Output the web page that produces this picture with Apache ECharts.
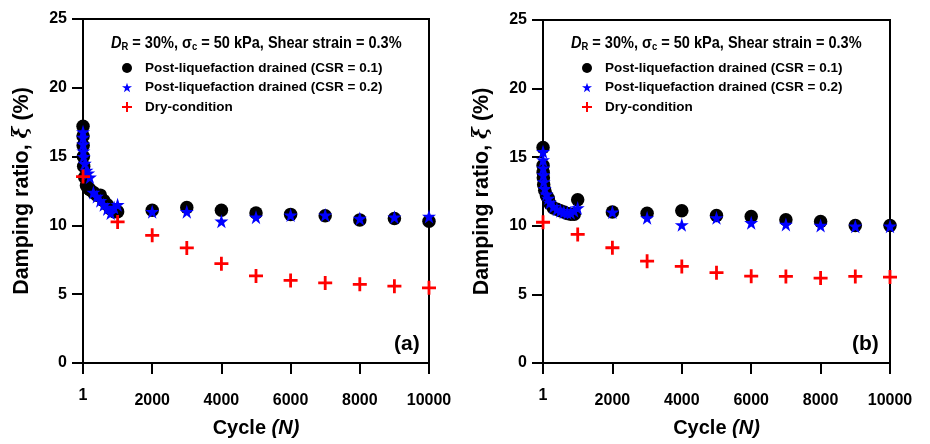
<!DOCTYPE html>
<html><head><meta charset="utf-8">
<script src="https://cdn.jsdelivr.net/npm/echarts@6/dist/echarts.min.js"></script>
<style>html,body{margin:0;padding:0;background:#fff}#c{width:930px;height:444px}</style>
</head><body><div id="c"></div>
<script>
// ---- data ----
const cyclesEarly = [1,2,5,10,20,50,100,150,200,300,400,500,600,700,800,900,1000];
const cyclesLate = [2000,3000,4000,5000,6000,7000,8000,9000,10000];
const cyclesDry = [1,1000,2000,3000,4000,5000,6000,7000,8000,9000,10000];
const xTicks = [0,2000,4000,6000,8000,10000];
const xTickLabels = ['1','2000','4000','6000','8000','10000'];

const a_csr01 = [17.2,16.5,15.8,15.0,14.3,13.5,12.9,12.7,12.6,12.4,12.2,12.2,11.8,11.5,11.2,11.0,11.0,
                 11.1,11.3,11.1,10.9,10.8,10.7,10.4,10.5,10.3];
const a_csr02 = [16.8,16.4,15.9,15.4,15.0,14.5,14.0,13.8,13.5,12.4,12.1,11.8,11.5,11.2,10.9,11.3,11.5,
                 11.0,11.0,10.3,10.6,10.75,10.75,10.5,10.6,10.65];
const a_dry = [13.55,10.25,9.28,8.36,7.22,6.33,6.0,5.82,5.72,5.58,5.46];

const b_csr01 = [15.7,14.4,13.9,13.5,13.0,12.6,12.2,12.0,11.6,11.3,11.2,11.1,11.0,10.9,10.85,10.85,11.9,
                 11.0,10.92,11.1,10.75,10.68,10.44,10.31,10.02,10.02];
const b_csr02 = [15.4,14.8,14.2,13.7,13.2,12.7,12.3,12.0,11.7,11.4,11.2,11.1,11.0,10.95,10.95,11.1,11.3,
                 11.0,10.58,10.07,10.58,10.22,10.1,10.02,9.97,9.97];
const b_dry = [10.26,9.37,8.4,7.42,7.04,6.58,6.33,6.31,6.19,6.31,6.26];

const names = ['Post-liquefaction drained (CSR = 0.1)','Post-liquefaction drained (CSR = 0.2)','Dry-condition'];
const panelLabels = ['(a)','(b)'];

// ---- build ----
const cyclesPL = cyclesEarly.concat(cyclesLate);
const pairs = (xs, ys) => xs.map((x,i)=>[x, ys[i]]);
const STAR = 'path://M50,0L61.2,34.5L97.6,34.5L68.2,55.9L79.4,90.5L50,69.1L20.6,90.5L31.8,55.9L2.4,34.5L38.8,34.5Z';
const PLUS = 'path://M40,0H60V40H100V60H60V100H40V60H0V40H40Z';
const SANS = '"Liberation Sans",Arial,sans-serif';

const grids = [
  {left:83, right:501, top:19, bottom:81},
  {left:543, right:40, top:20, bottom:81}
];
const axisLineStyle = {color:'#000', width:2};

const xAxes = grids.map((g,i)=>({
  gridIndex:i, type:'value', min:0, max:10000, interval:2000,
  axisLine:{show:true, onZero:false, lineStyle:axisLineStyle},
  axisTick:{show:true, inside:false, length:11, lineStyle:axisLineStyle},
  splitLine:{show:false},
  axisLabel:{
    margin:24.5, showMinLabel:true, showMaxLabel:true,
    formatter:(v)=>{const k=xTicks.indexOf(v); const t=k>=0?xTickLabels[k]:''; return k===0?'{one|'+t+'}':'{n|'+t+'}';},
    rich:{
      one:{fontFamily:SANS, fontWeight:'bold', fontSize:16, color:'#000'},
      n:{fontFamily:SANS, fontWeight:'bold', fontSize:16, color:'#000', padding:[5,0,0,0]}
    }
  },
  name:'Cycle {i|(N)}', nameLocation:'middle', nameGap:55,
  nameTextStyle:{fontFamily:SANS, fontWeight:'bold', fontSize:20, color:'#000',
    rich:{i:{fontFamily:SANS, fontWeight:'bold', fontStyle:'italic', fontSize:20, color:'#000'}}}
}));

const yAxes = grids.map((g,i)=>({
  gridIndex:i, type:'value', min:0, max:25, interval:5,
  axisLine:{show:true, onZero:false, lineStyle:axisLineStyle},
  axisTick:{show:true, inside:false, length:11, lineStyle:axisLineStyle},
  splitLine:{show:false},
  axisLabel:{margin:16, fontFamily:SANS, fontWeight:'bold', fontSize:16, color:'#000'},
  name:'Damping ratio, {i|ξ} (%)', nameLocation:'middle', nameGap:50,
  nameTextStyle:{fontFamily:SANS, fontWeight:'bold', fontSize:21.5, color:'#000',
    rich:{i:{fontFamily:'"DejaVu Serif",serif', fontStyle:'italic', fontSize:20, color:'#000'}}}
}));

function panelSeries(i, s1, s2, dry){
  return [
    {name:names[0], type:'scatter', xAxisIndex:i, yAxisIndex:i, symbol:'circle', symbolSize:13.5,
     itemStyle:{color:'#000', opacity:1}, data:pairs(cyclesPL, s1), z:2},
    {name:names[1], type:'scatter', xAxisIndex:i, yAxisIndex:i, symbol:STAR, symbolSize:14,
     itemStyle:{color:'#0000ff', opacity:1}, data:pairs(cyclesPL, s2), z:3},
    {name:names[2], type:'scatter', xAxisIndex:i, yAxisIndex:i, symbol:PLUS, symbolSize:14,
     itemStyle:{color:'#ff0000', opacity:1}, data:pairs(cyclesDry, dry), z:4}
  ];
}

const legendBase = {
  orient:'vertical', top:56, itemWidth:10, itemHeight:10, itemGap:5.5,
  textStyle:{fontFamily:SANS, fontWeight:'bold', fontSize:13.5, lineHeight:14, color:'#000', padding:[0,0,0,8]},
  data:[
    {name:names[0], icon:'circle'},
    {name:names[1], icon:STAR},
    {name:names[2], icon:PLUS}
  ],
  selectedMode:false
};

function header(x){
  return {type:'text', x:x, y:32, scaleX:0.855, silent:true, style:{
    text:'{d|D}{sub|R}{t| = 30%, }{t|σ}{sub|c}{t| = 50 kPa, Shear strain = 0.3%}',
    rich:{
      d:{fontFamily:SANS, fontWeight:'bold', fontStyle:'italic', fontSize:17, fill:'#000', verticalAlign:'bottom', lineHeight:20},
      t:{fontFamily:SANS, fontWeight:'bold', fontSize:17, fill:'#000', verticalAlign:'bottom', lineHeight:20},
      sub:{fontFamily:SANS, fontWeight:'bold', fontSize:11, fill:'#000', verticalAlign:'bottom', lineHeight:14}
    }
  }};
}
function panelLabel(x, t){
  return {type:'text', left:x, top:334, silent:true, style:{text:t, fontFamily:SANS, fontWeight:'bold', fontSize:21, fill:'#000'}};
}

const option = {
  animation:false,
  backgroundColor:'#fff',
  grid: grids.map(g=>Object.assign({show:true, borderColor:'#000', borderWidth:2, backgroundColor:'transparent'}, g)),
  xAxis: xAxes,
  yAxis: yAxes,
  legend:[Object.assign({}, legendBase, {left:117}), Object.assign({}, legendBase, {left:577})],
  graphic:[header(111), header(571), panelLabel(394, panelLabels[0]), panelLabel(852, panelLabels[1])],
  series: panelSeries(0, a_csr01, a_csr02, a_dry).concat(panelSeries(1, b_csr01, b_csr02, b_dry))
};
const chart = echarts.init(document.getElementById('c'), null, {renderer:'canvas'});
chart.setOption(option);
</script>
</body></html>
